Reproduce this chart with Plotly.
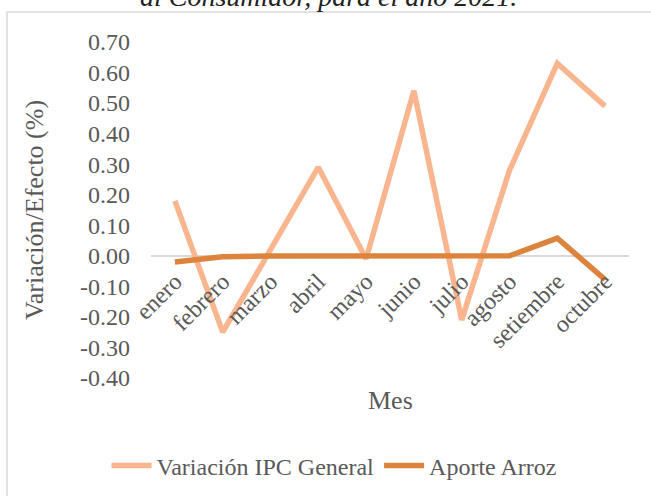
import plotly.graph_objects as go

meses = ["enero", "febrero", "marzo", "abril", "mayo", "junio",
         "julio", "agosto", "setiembre", "octubre"]
ipc_general = [0.18, -0.25, 0.02, 0.29, -0.01, 0.54, -0.21, 0.28, 0.63, 0.49]
aporte_arroz = [-0.02, -0.003, -0.001, -0.001, 0.0, 0.001, 0.001, 0.0, 0.058, -0.078]
y_ticks = [0.7, 0.6, 0.5, 0.4, 0.3, 0.2, 0.1, 0.0, -0.1, -0.2, -0.3, -0.4]
y_tick_labels = ["0.70", "0.60", "0.50", "0.40", "0.30", "0.20", "0.10", "0.00",
                 "-0.10", "-0.20", "-0.30", "-0.40"]
titulo = "al Consumidor, para el año 2021."

FONT = "Liberation Serif"
GRAY = "#595959"

fig = go.Figure()
fig.add_trace(go.Scatter(x=meses, y=ipc_general, mode="lines",
                         name="Variación IPC General",
                         line=dict(color="#F9B58E", width=5.5)))
fig.add_trace(go.Scatter(x=meses, y=aporte_arroz, mode="lines",
                         name="Aporte Arroz",
                         line=dict(color="#DC843E", width=5.5)))

W, H = 651, 496
L, R, T, B = 151, 22, 42, 118
pw, ph = W - L - R, H - T - B

def px_x(p):
    return (p - L) / pw

def px_y(p):
    return (H - B - p) / ph

fig.update_layout(
    width=W, height=H,
    margin=dict(l=L, r=R, t=T, b=B, autoexpand=False),
    paper_bgcolor="white", plot_bgcolor="white",
    font=dict(family=FONT, size=24, color=GRAY),
    showlegend=True,
    legend=dict(orientation="h", xref="container", yref="container",
                x=334 / W, y=1 - 466 / H,
                xanchor="center", yanchor="middle",
                font=dict(family=FONT, size=24, color=GRAY), itemwidth=40,
                bgcolor="rgba(0,0,0,0)"),
    xaxis=dict(type="category", range=[-0.5, 9.5], anchor="free",
               position=0.4 / 1.1, automargin=False,
               tickangle=-45, ticks="", showline=False, showgrid=False,
               zeroline=False, tickfont=dict(family=FONT, size=24, color=GRAY),
               ticklabelstandoff=6),
    yaxis=dict(range=[-0.4, 0.7], tickvals=y_ticks, ticktext=y_tick_labels,
               automargin=False,
               showgrid=False, zeroline=True, zerolinecolor="#D9D9D9",
               zerolinewidth=1.5, ticks="", showline=False,
               tickfont=dict(family=FONT, size=24, color=GRAY), ticklabelstandoff=20,
               title=dict(text="Variación/Efecto (%)",
                          font=dict(family=FONT, size=26, color=GRAY), standoff=28)),
    shapes=[dict(type="rect", xref="paper", yref="paper",
                 x0=px_x(7), x1=px_x(660), y0=px_y(12), y1=px_y(505),
                 line=dict(color="#D9D9D9", width=1.5), layer="below")],
    annotations=[
        dict(text="Mes", xref="paper", yref="paper", x=px_x(390), y=px_y(400),
             xanchor="center", yanchor="middle", showarrow=False,
             font=dict(family=FONT, size=26, color=GRAY)),
        dict(text="<i>" + titulo + "</i>", xref="paper", yref="paper",
             x=px_x(328), y=px_y(-4), xanchor="center", yanchor="middle",
             showarrow=False, font=dict(family=FONT, size=28, color="#222222")),
    ],
)

fig.write_html("out.html", config={"displayModeBar": False},
               post_script="document.body.style.margin='0';")
